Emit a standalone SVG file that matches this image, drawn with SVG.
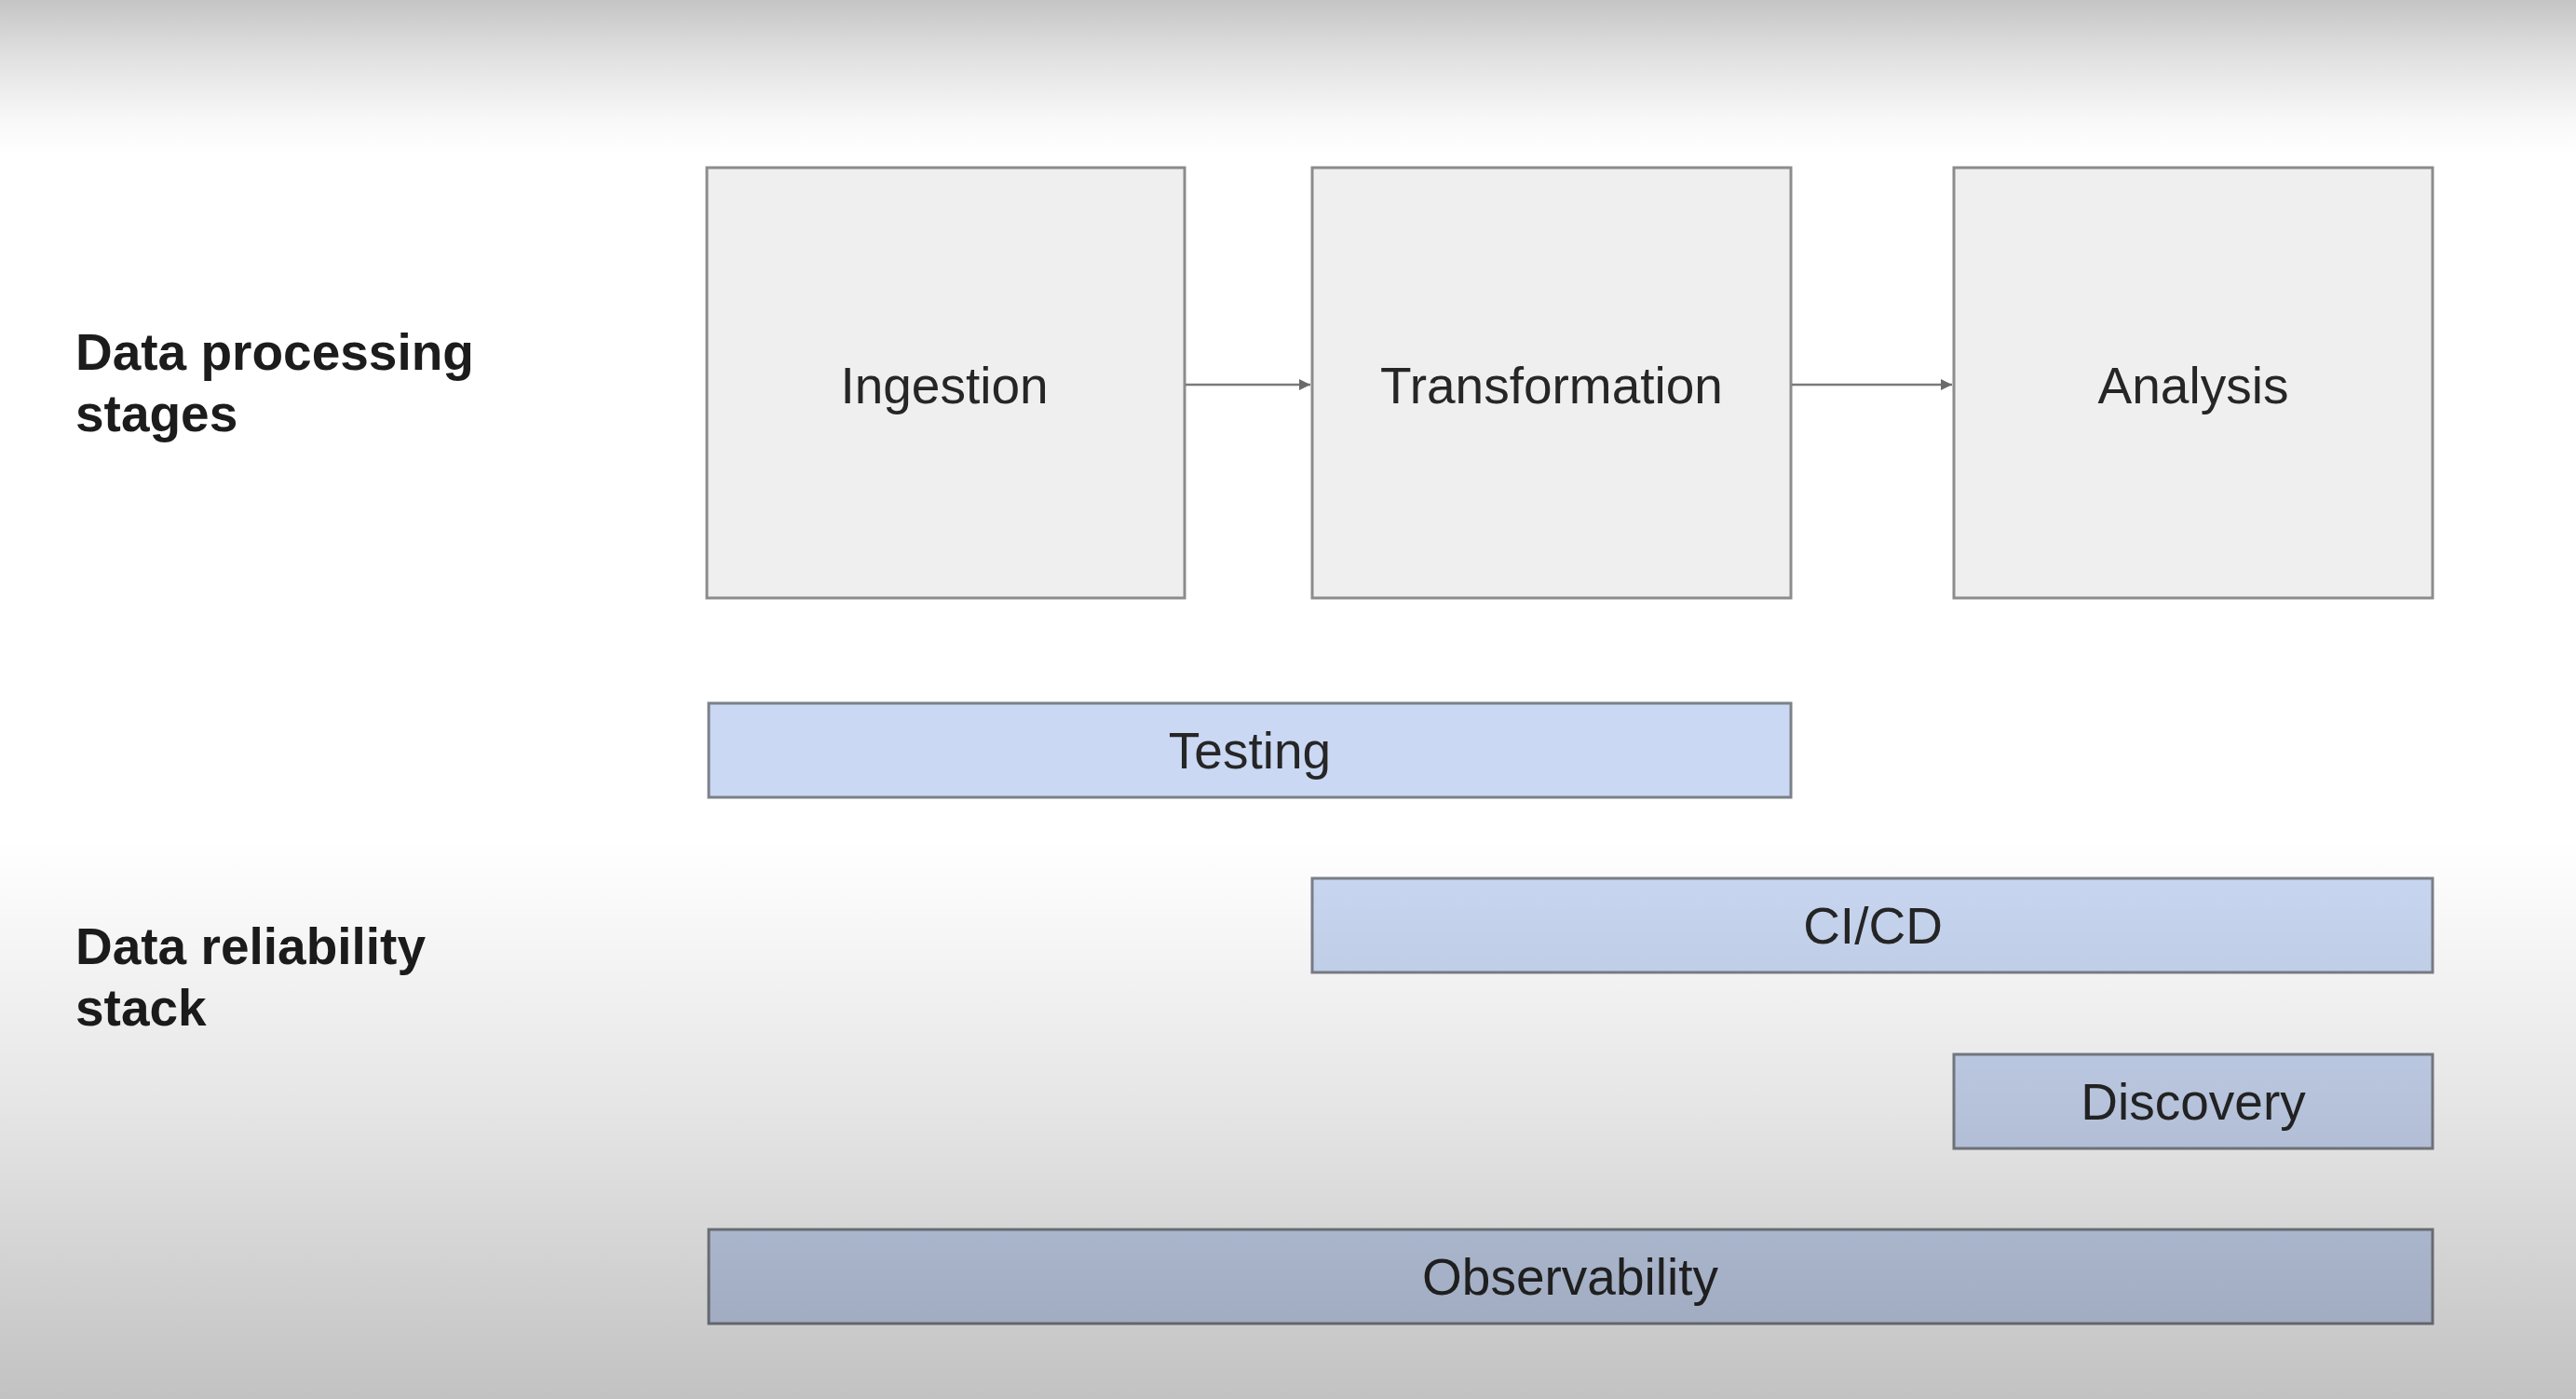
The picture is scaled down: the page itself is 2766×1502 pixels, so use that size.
<svg xmlns="http://www.w3.org/2000/svg" width="2766" height="1502" viewBox="0 0 2766 1502">
<style>
.stage{fill:#efefef;stroke:#8c8c8c;stroke-width:3}
.bar{fill:#cad8f3;stroke:#7c8088;stroke-width:3}
.lbl{font-family:"Liberation Sans",Arial,sans-serif;font-size:55px;fill:#262626;text-anchor:middle}
.side{font-family:"Liberation Sans",Arial,sans-serif;font-size:55px;font-weight:bold;fill:#1c1c1c}
.conn{stroke:#7a7a7a;stroke-width:2.5;fill:none}
</style>
<defs>
<marker id="arr" viewBox="0 0 10 10" refX="10" refY="5" markerWidth="5" markerHeight="5" orient="auto" markerUnits="strokeWidth">
<path d="M0,0 L10,5 L0,10 z" fill="#6a6a6a"/>
</marker>
<linearGradient id="vig" x1="0" y1="0" x2="0" y2="1">
<stop offset="0" stop-color="#000" stop-opacity="0.23"/>
<stop offset="0.04" stop-color="#000" stop-opacity="0.12"/>
<stop offset="0.085" stop-color="#000" stop-opacity="0.03"/>
<stop offset="0.11" stop-color="#000" stop-opacity="0"/>
<stop offset="0.6" stop-color="#000" stop-opacity="0"/>
<stop offset="0.79" stop-color="#000" stop-opacity="0.1"/>
<stop offset="0.91" stop-color="#000" stop-opacity="0.18"/>
<stop offset="1" stop-color="#000" stop-opacity="0.24"/>
</linearGradient>
</defs>
<rect width="2766" height="1502" fill="#ffffff"/>
<g id="label-stages">
<text class="side" x="81" y="397">Data processing</text>
<text class="side" x="81" y="463">stages</text>
</g>
<g id="label-stack">
<text class="side" x="81" y="1035">Data reliability</text>
<text class="side" x="81" y="1101">stack</text>
</g>
<g id="ingestion">
<rect class="stage" x="759" y="180" width="513" height="462"/>
<text class="lbl" x="1014" y="433">Ingestion</text>
</g>
<g id="transformation">
<rect class="stage" x="1409" y="180" width="514" height="462"/>
<text class="lbl" x="1666" y="433">Transformation</text>
</g>
<g id="analysis">
<rect class="stage" x="2098" y="180" width="514" height="462"/>
<text class="lbl" x="2355" y="433">Analysis</text>
</g>
<g id="connectors">
<line class="conn" x1="1273" y1="413" x2="1407" y2="413" marker-end="url(#arr)"/>
<line class="conn" x1="1924" y1="413" x2="2096" y2="413" marker-end="url(#arr)"/>
</g>
<g id="testing">
<rect class="bar" x="761" y="755" width="1162" height="101"/>
<text class="lbl" x="1342" y="825">Testing</text>
</g>
<g id="cicd">
<rect class="bar" x="1409" y="943" width="1203" height="101"/>
<text class="lbl" x="2011" y="1013">CI/CD</text>
</g>
<g id="discovery">
<rect class="bar" x="2098" y="1132" width="514" height="101"/>
<text class="lbl" x="2355" y="1202">Discovery</text>
</g>
<g id="observability">
<rect class="bar" x="761" y="1320" width="1851" height="101"/>
<text class="lbl" x="1686" y="1390">Observability</text>
</g>
<rect id="vignette" width="2766" height="1502" fill="url(#vig)" pointer-events="none"/>
</svg>
